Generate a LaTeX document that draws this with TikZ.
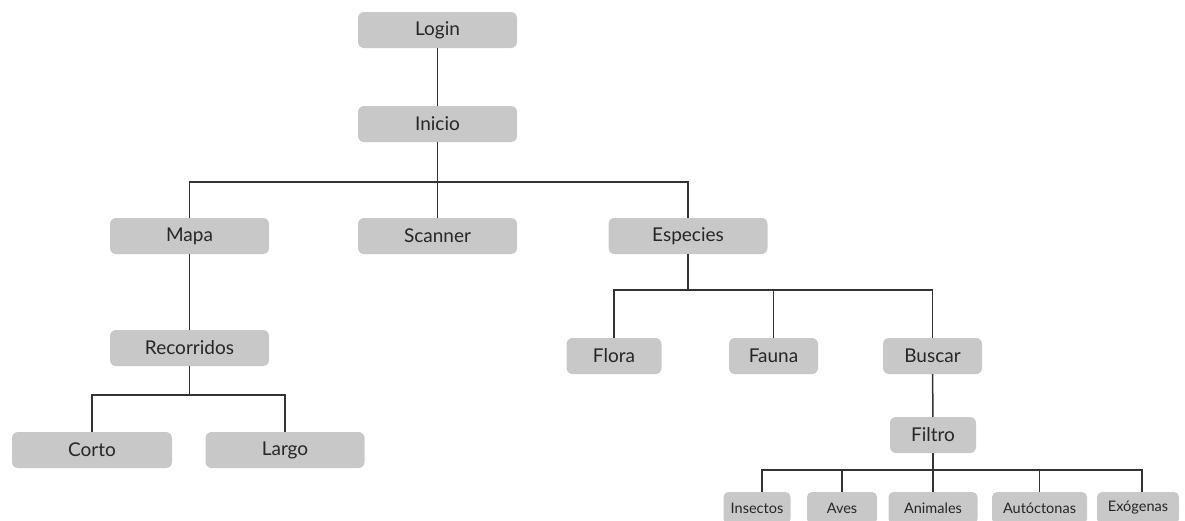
\documentclass[tikz,border=0pt]{standalone}
\usepackage{fontspec}
\setmainfont{Lato}
\begin{document}
\begin{tikzpicture}[x=1pt,y=-1pt,
  box/.style={fill=boxgray, rounded corners=6pt, minimum width=159pt, minimum height=36pt, inner sep=0pt, font=\fontsize{19}{21}\selectfont, text=black!85},
  mid/.style={box, minimum width=95pt},
  small/.style={box, minimum height=32pt, rounded corners=5pt, font=\fontsize{14.5}{16}\selectfont},
  link/.style={draw=linegray, line width=1.5pt}]
\definecolor{boxgray}{HTML}{C8C8C8}
\definecolor{linegray}{HTML}{333333}
\useasboundingbox (0,0) rectangle (1185,520);
\node[box] (login) at (437.5,30) {Login};
\node[box] (inicio) at (437.5,124) {Inicio};
\node[box] (mapa) at (189.5,236) {Mapa};
\node[box] (scanner) at (437.5,236) {Scanner};
\node[box] (especies) at (688,236) {Especies};
\node[box] (recorridos) at (189.5,348) {Recorridos};
\node[box, minimum width=160pt] (corto) at (92,450) {Corto};
\node[box] (largo) at (285,450) {Largo};
\node[mid] (flora) at (614,356) {Flora};
\node[mid, minimum width=89pt] (fauna) at (773.5,356) {Fauna};
\node[mid, minimum width=99pt] (buscar) at (932.5,356) {Buscar};
\node[mid, minimum width=86pt] (filtro) at (933,435) {Filtro};
\node[small, minimum width=67pt] (insectos) at (757,508) {Insectos};
\node[small, minimum width=70pt] (aves) at (842,508) {Aves};
\node[small, minimum width=89pt] (animales) at (933,508) {Animales};
\node[small, minimum width=95pt] (autoctonas) at (1039.5,508) {Autóctonas};
\node[small, minimum width=82pt] (exogenas) at (1138,508) {Exógenas};
% connectors
\coordinate (b1) at (437.5,182);
\coordinate (b2) at (189.5,395);
\coordinate (b3) at (688,290);
\coordinate (b4) at (933,470);
\draw[link] (login) -- (inicio);
\draw[link] (inicio) -- (b1) -| (mapa);
\draw[link] (b1) -- (scanner);
\draw[link] (b1) -| (especies);
\draw[link] (mapa) -- (recorridos);
\draw[link] (recorridos) -- (b2) -| (corto);
\draw[link] (b2) -| (largo);
\draw[link] (especies) -- (b3) -| (flora);
\draw[link] (b3) -| (fauna);
\draw[link] (b3) -| (buscar);
\draw[link] (buscar) -- (filtro);
\draw[link] (filtro) -- (b4) -| ([xshift=5pt]insectos.north);
\draw[link] (b4) -| (aves);
\draw[link] (b4) -- (animales);
\draw[link] (b4) -| (autoctonas);
\draw[link] (b4) -| ([xshift=4pt]exogenas.north);
\end{tikzpicture}
\end{document}
